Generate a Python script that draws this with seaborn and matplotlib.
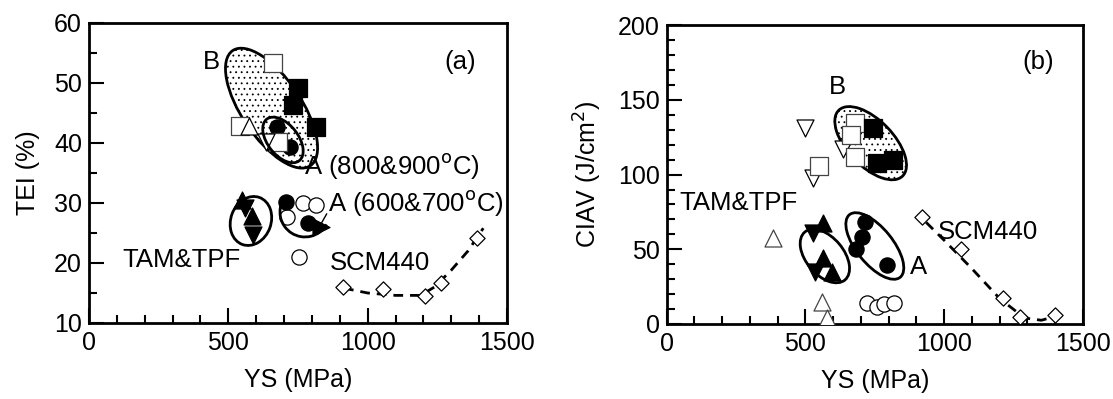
import matplotlib
matplotlib.use('Agg')
import matplotlib.pyplot as plt
import matplotlib.transforms as mtransforms
from matplotlib.patches import Ellipse, Arc
from matplotlib.ticker import MultipleLocator
import seaborn as sns

sns.set_style('ticks')
plt.rcParams.update({
    'font.family': ['Liberation Sans', 'DejaVu Sans'],
    'axes.linewidth': 2.0,
    'xtick.direction': 'in', 'ytick.direction': 'in',
    'xtick.major.size': 11, 'ytick.major.size': 11,
    'xtick.minor.size': 5.5, 'ytick.minor.size': 5.5,
    'xtick.major.width': 1.5, 'ytick.major.width': 1.5,
    'xtick.minor.width': 1.5, 'ytick.minor.width': 1.5,
    'xtick.major.pad': 6, 'ytick.major.pad': 5,
    'xtick.labelsize': 18, 'ytick.labelsize': 18,
    'axes.labelsize': 18,
    'text.color': 'black', 'axes.labelcolor': 'black',
    'hatch.color': '#555555', 'hatch.linewidth': 0.6,
})

# ---- panel (a): YS vs TEI ----
a_b_open_sq_x = [660, 542, 678]
a_b_open_sq_y = [53.3, 42.8, 40.2]
a_b_fill_sq_x = [750, 732, 815]
a_b_fill_sq_y = [49.2, 46.3, 42.7]
a_b_open_up_x = [574]
a_b_open_up_y = [42.8]
a_b_open_dn_x = [635]
a_b_open_dn_y = [40.2]
a_hi_fill_circ_x = [675, 721]
a_hi_fill_circ_y = [42.7, 39.3]

a_tam_up_x = [549, 585]
a_tam_up_y = [30.5, 27.8]
a_tam_dn_x = [558, 588]
a_tam_dn_y = [29.2, 24.6]

a_lo_fill_circ_x = [707, 786]
a_lo_fill_circ_y = [30.2, 26.6]
a_lo_open_circ_x = [768, 815, 710, 754]
a_lo_open_circ_y = [30.0, 29.7, 27.7, 21.0]
a_lo_right_x = [833]
a_lo_right_y = [26.0]

a_scm_x = [911, 1055, 1206, 1263, 1392]
a_scm_y = [16.0, 15.7, 14.5, 16.7, 24.2]
a_scm_fit_x = [915, 1000, 1100, 1190, 1240, 1300, 1360, 1415]
a_scm_fit_y = [15.8, 15.0, 14.6, 14.6, 16.0, 18.8, 22.0, 25.8]

# ---- panel (b): YS vs CIAV ----
b_open_dn_x = [498, 526, 635]
b_open_dn_y = [131, 98, 117]
b_open_sq_x = [548, 678, 663, 678]
b_open_sq_y = [105.7, 134.5, 126.5, 111.7]
b_fill_sq_x = [743, 757, 815]
b_fill_sq_y = [131, 107.7, 109.7]
b_open_up_x = [383, 559, 577]
b_open_up_y = [57.5, 14.7, 4]
b_tam_up_x = [563, 563, 595]
b_tam_up_y = [67.5, 44, 35]
b_tam_dn_x = [527, 534]
b_tam_dn_y = [61, 35]
b_fill_circ_x = [714, 703, 682, 794]
b_fill_circ_y = [68, 58, 50, 39.5]
b_open_circ_x = [721, 757, 782, 818]
b_open_circ_y = [14, 11.5, 13.5, 14]
b_scm_x = [920, 1060, 1212, 1273, 1399]
b_scm_y = [71.5, 50, 17.5, 4.5, 6]
b_scm_fit_x = [935, 1000, 1100, 1200, 1290, 1350, 1400]
b_scm_fit_y = [68, 56, 37, 17, 4, 2.5, 5]

# ellipses: centre (data), width/height (pt), angle (deg), hatched
a_ellipses = [((655, 45.8), 100, 43, -56, True), ((696, 40.5), 38, 22, -52, False),
              ((581, 27.0), 36, 29, 70, False)]
a_arc = ((775, 28.5), 36, 36, 0, 146, 330)
b_ellipses = [((735, 121), 66, 33, -46, True), ((570, 45.5), 45, 27, -50, False),
              ((750, 52.2), 58, 26, -51, False)]


def add_ellipse(ax, center, w, h, angle, hatched):
    trans = ax.figure.dpi_scale_trans + mtransforms.ScaledTranslation(center[0], center[1], ax.transData)
    e = Ellipse((0, 0), w / 72, h / 72, angle=angle, transform=trans,
                facecolor='white' if hatched else 'none', edgecolor='black',
                lw=2.0, hatch='...' if hatched else None, zorder=1 if hatched else 4)
    ax.add_patch(e)


def pts(ax, x, y, marker, filled, s=120, ec='black'):
    sns.scatterplot(x=x, y=y, marker=marker, s=s, color='black' if filled else 'white',
                    edgecolor=ec, linewidth=0.9, ax=ax, zorder=3, legend=False)


def style_axes(ax, ymin, ymax, ymaj, ymin_step):
    ax.set_xlim(0, 1500)
    ax.set_ylim(ymin, ymax)
    ax.xaxis.set_major_locator(MultipleLocator(500))
    ax.xaxis.set_minor_locator(MultipleLocator(100))
    ax.yaxis.set_major_locator(MultipleLocator(ymaj))
    ax.yaxis.set_minor_locator(MultipleLocator(ymin_step))
    ax.tick_params(which='both', top=False, right=False, color='black', labelcolor='black')
    for sp in ax.spines.values():
        sp.set_visible(True)
        sp.set_color('black')
    ax.set_xlabel('YS (MPa)', labelpad=9)


fig = plt.figure(figsize=(11.13, 3.99), dpi=100)
ax1 = fig.add_axes([0.080, 0.1905, 0.3755, 0.752])
ax2 = fig.add_axes([0.599, 0.188, 0.374, 0.749])

FS = 18.5

# panel (a)
for c, w, h, ang, hat in a_ellipses:
    add_ellipse(ax1, c, w, h, ang, hat)
trans = fig.dpi_scale_trans + mtransforms.ScaledTranslation(a_arc[0][0], a_arc[0][1], ax1.transData)
ax1.add_patch(Arc((0, 0), a_arc[1] / 72, a_arc[2] / 72, angle=a_arc[3], theta1=a_arc[4],
                  theta2=a_arc[5], transform=trans, lw=2.0, color='black', zorder=4))
sns.lineplot(x=a_scm_fit_x, y=a_scm_fit_y, sort=False, color='black', lw=2.0,
             dashes=(3.5, 2.5), ax=ax1, zorder=2)
pts(ax1, a_hi_fill_circ_x, a_hi_fill_circ_y, 'o', True)
pts(ax1, a_b_open_sq_x, a_b_open_sq_y, 's', False, 150, '#444444')
pts(ax1, a_b_fill_sq_x, a_b_fill_sq_y, 's', True, 150)
pts(ax1, a_b_open_up_x, a_b_open_up_y, '^', False, 150)
pts(ax1, a_b_open_dn_x, a_b_open_dn_y, 'v', False, 150)
pts(ax1, a_tam_up_x, a_tam_up_y, '^', True, 150)
pts(ax1, a_tam_dn_x, a_tam_dn_y, 'v', True, 150)
pts(ax1, a_lo_open_circ_x, a_lo_open_circ_y, 'o', False)
pts(ax1, a_lo_fill_circ_x, a_lo_fill_circ_y, 'o', True)
pts(ax1, a_lo_right_x, a_lo_right_y, '>', True, 150)
pts(ax1, a_scm_x, a_scm_y, 'D', False, 60)
ax1.annotate('', xy=(830, 26.3), xytext=(858, 28.6),
             arrowprops=dict(arrowstyle='-', lw=1.0, color='black'))

ax1.text(440, 53.5, 'B', fontsize=FS, ha='center', va='center')
ax1.text(1331, 53.5, '(a)', fontsize=FS, ha='center', va='center')
ax1.text(771, 36.2, 'A (800&900$^{\\rm o}$C)', fontsize=FS, ha='left', va='center')
ax1.text(858, 30.0, 'A (600&700$^{\\rm o}$C)', fontsize=FS, ha='left', va='center')
ax1.text(118, 20.5, 'TAM&TPF', fontsize=FS, ha='left', va='center')
ax1.text(865, 20.0, 'SCM440', fontsize=FS, ha='left', va='center')
style_axes(ax1, 10, 60, 10, 5)
ax1.set_ylabel('TEI (%)', labelpad=10)

# panel (b)
for c, w, h, ang, hat in b_ellipses:
    add_ellipse(ax2, c, w, h, ang, hat)
sns.lineplot(x=b_scm_fit_x, y=b_scm_fit_y, sort=False, color='black', lw=2.0,
             dashes=(3.5, 2.5), ax=ax2, zorder=2)
pts(ax2, b_open_dn_x, b_open_dn_y, 'v', False, 150)
pts(ax2, b_open_sq_x, b_open_sq_y, 's', False, 150, '#444444')
pts(ax2, b_fill_sq_x, b_fill_sq_y, 's', True, 150)
pts(ax2, b_open_up_x, b_open_up_y, '^', False, 150, '#444444')
pts(ax2, b_tam_up_x, b_tam_up_y, '^', True, 150)
pts(ax2, b_tam_dn_x, b_tam_dn_y, 'v', True, 150)
pts(ax2, b_fill_circ_x, b_fill_circ_y, 'o', True)
pts(ax2, b_open_circ_x, b_open_circ_y, 'o', False)
pts(ax2, b_scm_x, b_scm_y, 'D', False, 60)

ax2.text(617, 158.5, 'B', fontsize=FS, ha='center', va='center')
ax2.text(1340, 175, '(b)', fontsize=FS, ha='center', va='center')
ax2.text(47, 81, 'TAM&TPF', fontsize=FS, ha='left', va='center')
ax2.text(876, 38, 'A', fontsize=FS, ha='left', va='center')
ax2.text(978, 61.5, 'SCM440', fontsize=FS, ha='left', va='center')
style_axes(ax2, 0, 200, 50, 10)
ax2.set_ylabel('CIAV (J/cm$^2$)', labelpad=10)

fig.savefig('out.png', dpi=100)
